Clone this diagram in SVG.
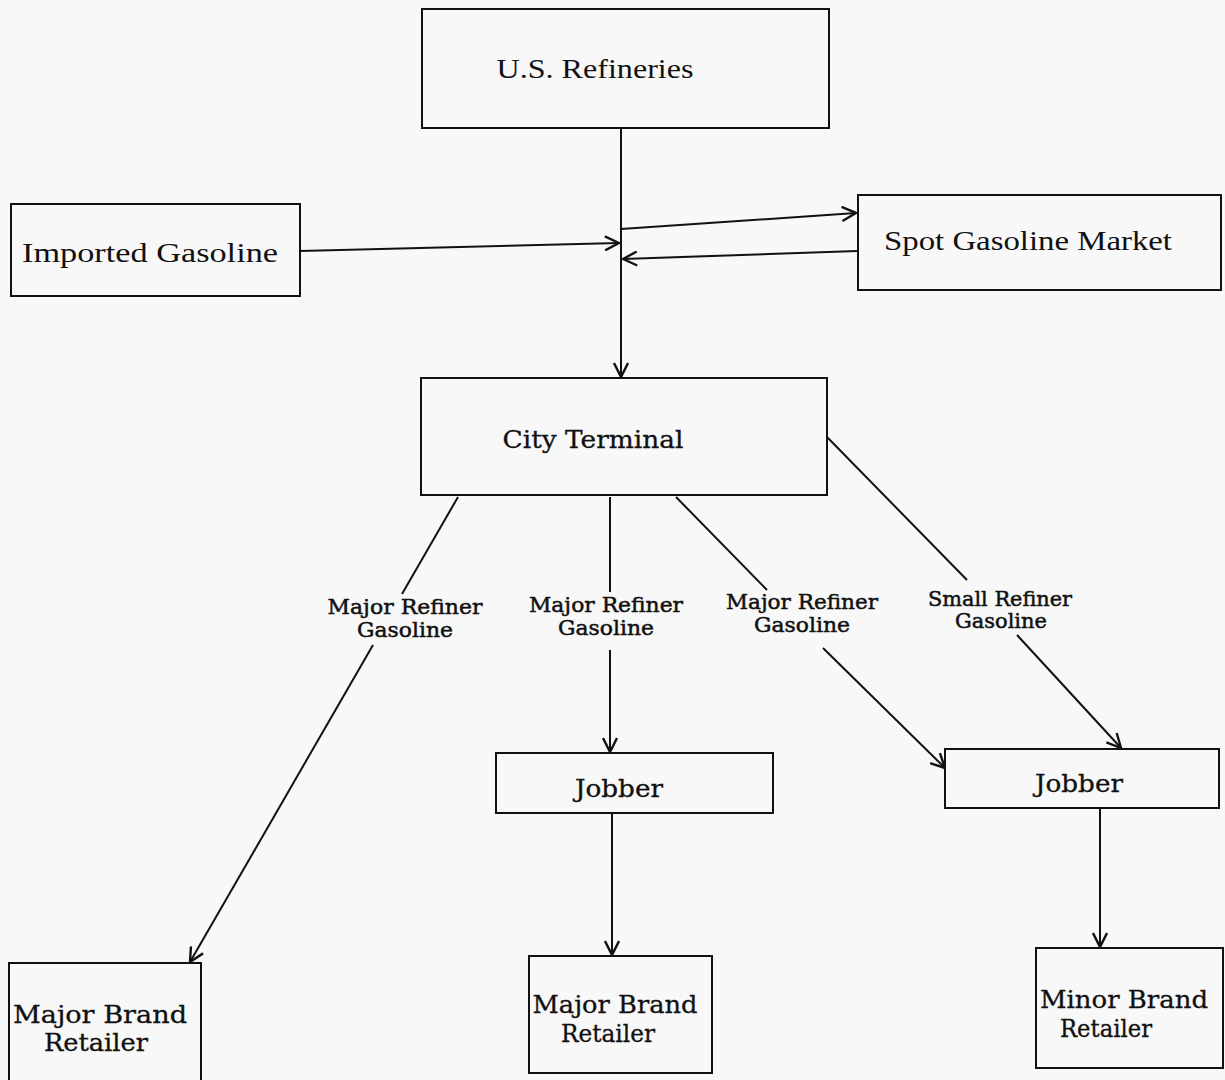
<svg xmlns="http://www.w3.org/2000/svg" width="1225" height="1080" viewBox="0 0 1225 1080">
<style>
.box{fill:none;stroke:#111;stroke-width:2}
.ln{fill:none;stroke:#111;stroke-width:2}
.t1{font-family:"Liberation Serif",serif;font-size:27px;fill:#111;text-anchor:middle}
.t2{font-family:"DejaVu Serif",serif;font-size:24px;fill:#111;stroke:#111;stroke-width:0.3;text-anchor:middle}
.lb{font-family:"DejaVu Serif",serif;font-size:21px;fill:#111;stroke:#111;stroke-width:0.5;text-anchor:middle}
</style>
<defs>
<marker id="ah" viewBox="0 0 16 16" refX="15" refY="8" markerWidth="16" markerHeight="16" markerUnits="userSpaceOnUse" orient="auto">
<path d="M1,1 L15,8 L1,15" fill="none" stroke="#111" stroke-width="2.4"/>
</marker>
</defs>
<rect width="1225" height="1080" fill="#f8f8f8"/>
<g id="connectors">
<line class="ln" x1="621" y1="128" x2="621" y2="377" marker-end="url(#ah)"/>
<line class="ln" x1="300" y1="251" x2="619" y2="243" marker-end="url(#ah)"/>
<line class="ln" x1="621" y1="229" x2="856" y2="213" marker-end="url(#ah)"/>
<line class="ln" x1="857" y1="251" x2="623" y2="259" marker-end="url(#ah)"/>
<line class="ln" x1="458" y1="497" x2="402" y2="594"/>
<line class="ln" x1="373" y1="645" x2="190" y2="962" marker-end="url(#ah)"/>
<line class="ln" x1="610" y1="497" x2="610" y2="592"/>
<line class="ln" x1="610" y1="650" x2="610" y2="752" marker-end="url(#ah)"/>
<line class="ln" x1="676" y1="497" x2="767" y2="590"/>
<line class="ln" x1="823" y1="648" x2="945" y2="768" marker-end="url(#ah)"/>
<line class="ln" x1="827" y1="437" x2="967" y2="580"/>
<line class="ln" x1="1017" y1="635" x2="1121" y2="748" marker-end="url(#ah)"/>
<line class="ln" x1="612" y1="813" x2="612" y2="955" marker-end="url(#ah)"/>
<line class="ln" x1="1100" y1="808" x2="1100" y2="947" marker-end="url(#ah)"/>
</g>
<g id="labels">
<text class="lb" x="405" y="614" textLength="155" lengthAdjust="spacingAndGlyphs">Major Refiner</text>
<text class="lb" x="405" y="637" textLength="96" lengthAdjust="spacingAndGlyphs">Gasoline</text>
<text class="lb" x="606" y="612" textLength="154" lengthAdjust="spacingAndGlyphs">Major Refiner</text>
<text class="lb" x="606" y="635" textLength="96" lengthAdjust="spacingAndGlyphs">Gasoline</text>
<text class="lb" x="802" y="609" textLength="152" lengthAdjust="spacingAndGlyphs">Major Refiner</text>
<text class="lb" x="802" y="632" textLength="96" lengthAdjust="spacingAndGlyphs">Gasoline</text>
<text class="lb" x="1000" y="606" textLength="144" lengthAdjust="spacingAndGlyphs">Small Refiner</text>
<text class="lb" x="1001" y="628" textLength="92" lengthAdjust="spacingAndGlyphs">Gasoline</text>
</g>
<g id="us-refineries">
<rect class="box" x="422" y="9" width="407" height="119"/>
<text class="t1" x="595" y="78" textLength="197" lengthAdjust="spacingAndGlyphs">U.S. Refineries</text>
</g>
<g id="imported-gasoline">
<rect class="box" x="11" y="204" width="289" height="92"/>
<text class="t1" x="150" y="262" textLength="256" lengthAdjust="spacingAndGlyphs">Imported Gasoline</text>
</g>
<g id="spot-gasoline-market">
<rect class="box" x="858" y="195" width="363" height="95"/>
<text class="t1" x="1028" y="250" textLength="288" lengthAdjust="spacingAndGlyphs">Spot Gasoline Market</text>
</g>
<g id="city-terminal">
<rect class="box" x="421" y="378" width="406" height="117"/>
<text class="t2" x="593" y="448" textLength="181" lengthAdjust="spacingAndGlyphs">City Terminal</text>
</g>
<g id="jobber-1">
<rect class="box" x="496" y="753" width="277" height="60"/>
<text class="t2" x="619" y="797" textLength="88" lengthAdjust="spacingAndGlyphs">Jobber</text>
</g>
<g id="jobber-2">
<rect class="box" x="945" y="749" width="274" height="59"/>
<text class="t2" x="1079" y="792" textLength="88" lengthAdjust="spacingAndGlyphs">Jobber</text>
</g>
<g id="major-brand-retailer-left">
<rect class="box" x="9" y="963" width="192" height="130"/>
<text class="t2" x="100" y="1023" textLength="174" lengthAdjust="spacingAndGlyphs">Major Brand</text>
<text class="t2" x="96" y="1051" textLength="104" lengthAdjust="spacingAndGlyphs">Retailer</text>
</g>
<g id="major-brand-retailer-middle">
<rect class="box" x="529" y="956" width="183" height="117"/>
<text class="t2" x="615" y="1013" textLength="165" lengthAdjust="spacingAndGlyphs">Major Brand</text>
<text class="t2" x="608" y="1042" textLength="94" lengthAdjust="spacingAndGlyphs">Retailer</text>
</g>
<g id="minor-brand-retailer">
<rect class="box" x="1036" y="948" width="187" height="120"/>
<text class="t2" x="1124" y="1008" textLength="168" lengthAdjust="spacingAndGlyphs">Minor Brand</text>
<text class="t2" x="1106" y="1037" textLength="92" lengthAdjust="spacingAndGlyphs">Retailer</text>
</g>
</svg>
